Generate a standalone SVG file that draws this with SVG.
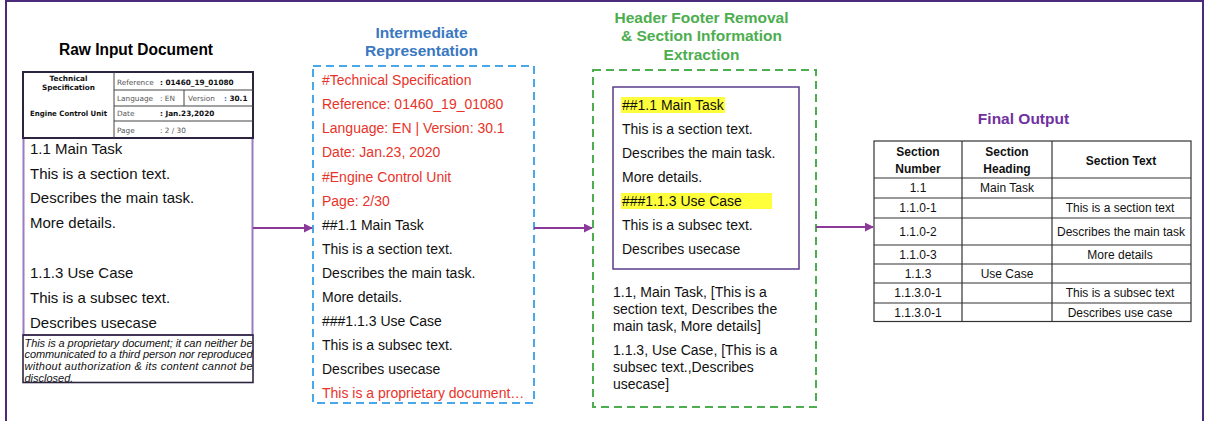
<svg xmlns="http://www.w3.org/2000/svg" width="1207" height="421" viewBox="0 0 1207 421">
  <style>
    text { font-family: "Liberation Sans", Arial, sans-serif; }
    .title { font-weight: bold; text-anchor: middle; }
    .hdr { font-family: "DejaVu Sans", Verdana, sans-serif; font-size: 7.3px; fill: #555; }
    .hdrb { font-family: "DejaVu Sans", Verdana, sans-serif; font-size: 7.3px; font-weight: bold; fill: #111; }
    .body { font-size: 15px; fill: #111; }
    .ir { font-size: 14px; fill: #111; }
    .ir-red { font-size: 14px; fill: #e8332a; }
    .foot { font-size: 11px; font-style: italic; fill: #111; }
    .cell { font-size: 12px; fill: #111; text-anchor: middle; }
    .cellb { font-size: 12px; font-weight: bold; fill: #111; text-anchor: middle; }
    .grid { stroke: #333; stroke-width: 1.2; fill: none; }
    .conn { stroke: #8b3a99; stroke-width: 2; fill: none; }
  </style>
  <defs>
    <marker id="arrow" viewBox="0 0 10 10" refX="9" refY="5" markerWidth="4.5" markerHeight="4.5" orient="auto" markerUnits="strokeWidth">
      <path d="M0,0 L10,5 L0,10 z" fill="#8b3a99"/>
    </marker>
  </defs>

  <rect width="1207" height="421" fill="#fff"/>
  <!-- outer frame -->
  <rect x="6" y="1" width="1197" height="440" fill="none" stroke="#4b2a7b" stroke-width="2"/>

  <!-- raw input document -->
  <g id="raw-input">
    <text class="title" x="136" y="55" font-size="16" textLength="154" lengthAdjust="spacingAndGlyphs">Raw Input Document</text>
    <!-- document body outline -->
    <rect x="23.5" y="138" width="229" height="197" fill="none" stroke="#9a7ac0" stroke-width="2"/>
    <!-- header table -->
    <rect x="23" y="72" width="230" height="66" fill="#fff" stroke="#2d2540" stroke-width="2"/>
    <g stroke="#444" stroke-width="1">
      <line x1="114" y1="72" x2="114" y2="138"/>
      <line x1="114" y1="90" x2="253" y2="90"/>
      <line x1="114" y1="106" x2="253" y2="106"/>
      <line x1="114" y1="121" x2="253" y2="121"/>
      <line x1="184" y1="90" x2="184" y2="106"/>
    </g>
    <text class="hdrb" x="68.5" y="80.5" text-anchor="middle">Technical</text>
    <text class="hdrb" x="68.5" y="89.5" text-anchor="middle">Specification</text>
    <text class="hdrb" x="68.5" y="116" text-anchor="middle" textLength="77" lengthAdjust="spacingAndGlyphs">Engine Control Unit</text>
    <text class="hdr" x="117" y="84.5">Reference</text>
    <text class="hdrb" x="160" y="84.5">: 01460_19_01080</text>
    <text class="hdr" x="117" y="101">Language</text>
    <text class="hdr" x="160" y="101">: EN</text>
    <text class="hdr" x="188" y="101">Version</text>
    <text class="hdrb" x="224" y="101"><tspan fill="#3a78c0">:</tspan> 30.1</text>
    <text class="hdr" x="117" y="116">Date</text>
    <text class="hdrb" x="160" y="116">: Jan.23,2020</text>
    <text class="hdr" x="117" y="132.5">Page</text>
    <text class="hdr" x="160" y="132.5">: 2 / 30</text>
    <!-- body -->
    <text class="body" x="30" y="154">1.1 Main Task</text>
    <text class="body" x="30" y="179">This is a section text.</text>
    <text class="body" x="30" y="203">Describes the main task.</text>
    <text class="body" x="30" y="228">More details.</text>
    <text class="body" x="30" y="278">1.1.3 Use Case</text>
    <text class="body" x="30" y="303">This is a subsec text.</text>
    <text class="body" x="30" y="328">Describes usecase</text>
    <!-- footer -->
    <text class="foot" x="24.5" y="346.5" textLength="228" lengthAdjust="spacing">This is a proprietary document; it can neither be</text>
    <text class="foot" x="24.5" y="358" textLength="228" lengthAdjust="spacing">communicated to a third person nor reproduced</text>
    <text class="foot" x="24.5" y="369.5" textLength="228" lengthAdjust="spacing">without authorization &amp; its content cannot be</text>
    <text class="foot" x="24.5" y="381.5">disclosed.</text>
    <rect x="23" y="335" width="230" height="47.5" fill="none" stroke="#2d2540" stroke-width="1.6"/>
  </g>

  <!-- intermediate representation -->
  <g id="intermediate">
    <text class="title" x="421.5" y="37.5" font-size="15.5" fill="#3a78c0">Intermediate</text>
    <text class="title" x="421.5" y="55.5" font-size="15.5" fill="#3a78c0">Representation</text>
    <rect x="313" y="66" width="221" height="337" fill="none" stroke="#4aa8e8" stroke-width="2" stroke-dasharray="8 5"/>
    <text class="ir-red" x="322" y="85">#Technical Specification</text>
    <text class="ir-red" x="322" y="109">Reference: 01460_19_01080</text>
    <text class="ir-red" x="322" y="133">Language: EN | Version: 30.1</text>
    <text class="ir-red" x="322" y="157">Date: Jan.23, 2020</text>
    <text class="ir-red" x="322" y="181.5">#Engine Control Unit</text>
    <text class="ir-red" x="322" y="205.5">Page: 2/30</text>
    <text class="ir" x="322" y="229.5">##1.1 Main Task</text>
    <text class="ir" x="322" y="253.5">This is a section text.</text>
    <text class="ir" x="322" y="278">Describes the main task.</text>
    <text class="ir" x="322" y="302">More details.</text>
    <text class="ir" x="322" y="326">###1.1.3 Use Case</text>
    <text class="ir" x="322" y="350">This is a subsec text.</text>
    <text class="ir" x="322" y="374">Describes usecase</text>
    <text class="ir-red" x="322" y="398">This is a proprietary document…</text>
  </g>

  <!-- header/footer removal and section extraction -->
  <g id="extraction">
    <text class="title" x="701.5" y="22.5" font-size="15.5" fill="#4cae4f">Header Footer Removal</text>
    <text class="title" x="701.5" y="41" font-size="15.5" fill="#4cae4f">&amp; Section Information</text>
    <text class="title" x="701.5" y="59.5" font-size="15.5" fill="#4cae4f">Extraction</text>
    <rect x="593" y="70" width="223" height="337" fill="none" stroke="#4cae4f" stroke-width="2" stroke-dasharray="8 5"/>
    <rect x="613" y="87" width="186" height="182" fill="none" stroke="#5b3b8c" stroke-width="1.5"/>
    <rect x="621" y="97" width="104" height="16" fill="#ffff3c"/>
    <rect x="621" y="193" width="151" height="16" fill="#ffff3c"/>
    <text class="ir" x="622" y="110">##1.1 Main Task</text>
    <text class="ir" x="622" y="134">This is a section text.</text>
    <text class="ir" x="622" y="158">Describes the main task.</text>
    <text class="ir" x="622" y="182">More details.</text>
    <text class="ir" x="622" y="206">###1.1.3 Use Case</text>
    <text class="ir" x="622" y="230">This is a subsec text.</text>
    <text class="ir" x="622" y="254">Describes usecase</text>
    <text class="ir" x="613" y="297">1.1, Main Task, [This is a</text>
    <text class="ir" x="613" y="314">section text, Describes the</text>
    <text class="ir" x="613" y="331">main task, More details]</text>
    <text class="ir" x="613" y="355">1.1.3, Use Case, [This is a</text>
    <text class="ir" x="613" y="372">subsec text.,Describes</text>
    <text class="ir" x="613" y="389">usecase]</text>
  </g>

  <!-- final output table -->
  <g id="final-output">
    <text class="title" x="1023.5" y="123.5" font-size="15.5" fill="#7030a0">Final Output</text>
    <rect class="grid" x="874" y="141" width="317" height="180.5"/>
    <g class="grid">
      <line x1="962" y1="141" x2="962" y2="321.5"/>
      <line x1="1052" y1="141" x2="1052" y2="321.5"/>
      <line x1="874" y1="178" x2="1191" y2="178"/>
      <line x1="874" y1="198" x2="1191" y2="198"/>
      <line x1="874" y1="218" x2="1191" y2="218"/>
      <line x1="874" y1="245" x2="1191" y2="245"/>
      <line x1="874" y1="264" x2="1191" y2="264"/>
      <line x1="874" y1="283" x2="1191" y2="283"/>
      <line x1="874" y1="303" x2="1191" y2="303"/>
    </g>
    <text class="cellb" x="918" y="156">Section</text>
    <text class="cellb" x="918" y="173">Number</text>
    <text class="cellb" x="1007" y="156">Section</text>
    <text class="cellb" x="1007" y="173">Heading</text>
    <text class="cellb" x="1121" y="165">Section Text</text>

    <text class="cell" x="918" y="192">1.1</text>
    <text class="cell" x="1007" y="192">Main Task</text>
    <text class="cell" x="918" y="212">1.1.0-1</text>
    <text class="cell" x="1120" y="212">This is a section text</text>
    <text class="cell" x="918" y="236">1.1.0-2</text>
    <text class="cell" x="1121" y="236">Describes the main task</text>
    <text class="cell" x="918" y="259">1.1.0-3</text>
    <text class="cell" x="1120" y="259">More details</text>
    <text class="cell" x="918" y="278">1.1.3</text>
    <text class="cell" x="1007" y="278">Use Case</text>
    <text class="cell" x="918" y="297">1.1.3.0-1</text>
    <text class="cell" x="1120" y="297">This is a subsec text</text>
    <text class="cell" x="918" y="317">1.1.3.0-1</text>
    <text class="cell" x="1120" y="317">Describes use case</text>
  </g>

  <!-- connectors -->
  <g id="connectors">
    <line class="conn" x1="253" y1="228" x2="312" y2="228" marker-end="url(#arrow)"/>
    <line class="conn" x1="534" y1="228" x2="592" y2="228" marker-end="url(#arrow)"/>
    <line class="conn" x1="816" y1="227" x2="873" y2="227" marker-end="url(#arrow)"/>
  </g>
</svg>
